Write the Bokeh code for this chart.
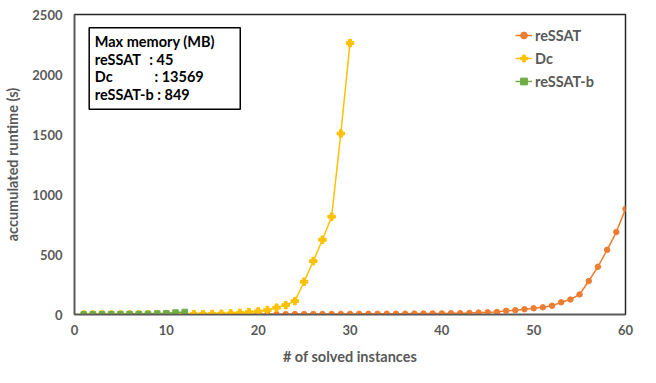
from bokeh.plotting import figure
from bokeh.models import Range1d, Label, BoxAnnotation, SingleIntervalTicker
from bokeh.embed import file_html
from bokeh.resources import INLINE

# ---- data ----
ressat_x = list(range(1, 61))
ressat_y = [0.1, 0.2, 0.3, 0.4, 0.5, 0.6, 0.7, 0.8, 0.9, 1.0,
            1.1, 1.2, 1.3, 1.5, 1.6, 1.8, 2.0, 2.1, 2.3, 2.5,
            2.7, 2.9, 3.1, 3.3, 3.5, 3.7, 4.0, 4.3, 4.6, 5.0,
            5.3, 5.7, 6.0, 6.4, 6.8, 7.2, 7.7, 8.2, 8.7, 9.2,
            9.8, 10.5, 13, 16, 18, 21, 31, 36, 44, 52,
            60, 73, 102, 125, 167, 279, 398, 539, 687, 880]
dc_x = list(range(1, 31))
dc_y = [0.1, 0.2, 0.3, 0.4, 0.5, 0.6, 0.8, 1.0, 1.2, 1.5,
        1.8, 2.1, 2.5, 3.0, 4.5, 6, 9, 14, 20, 26,
        37, 57, 78, 112, 273, 445, 623, 815, 1508, 2262]
rb_x = list(range(1, 13))
rb_y = [1, 1.5, 2, 2.5, 3, 3.5, 4, 5, 8, 10, 16, 21]

series_names = ["reSSAT", "Dc", "reSSAT-b"]
colors = ["#ED7D31", "#FFC000", "#70AD47"]
x_ticks_step = 10
y_ticks_step = 500

memo_title = "Max memory  (MB)"
memo_rows = [("reSSAT", ": 45"), ("Dc", ": 13569")]
memo_last = "reSSAT-b : 849"

FONT = "Lato"
GRAY = "#595959"

p = figure(width=640, height=367, output_backend="svg", toolbar_location=None,
           x_range=Range1d(0, 60), y_range=Range1d(0, 2500),
           min_border_left=74, min_border_right=15, min_border_top=14, min_border_bottom=46)

p.xgrid.visible = False
p.ygrid.visible = False
p.outline_line_color = "#262626"
p.outline_line_width = 1.5

p.xaxis.ticker = SingleIntervalTicker(interval=x_ticks_step)
p.yaxis.ticker = SingleIntervalTicker(interval=y_ticks_step)
for ax in (p.xaxis[0], p.yaxis[0]):
    ax.major_tick_out = 0
    ax.major_tick_in = 0
    ax.minor_tick_out = 0
    ax.minor_tick_in = 0
    ax.axis_line_color = "#595959"
    ax.axis_line_width = 1.5
    ax.major_label_text_font = FONT
    ax.major_label_text_font_style = "bold"
    ax.major_label_text_font_size = "13px"
    ax.major_label_text_color = GRAY
    ax.axis_label_text_font = FONT
    ax.axis_label_text_font_style = "bold"
    ax.axis_label_text_font_size = "14.5px"
    ax.axis_label_text_color = GRAY
p.xaxis.major_label_standoff = 10
p.yaxis.major_label_standoff = 12
p.xaxis.axis_label = "# of solved instances"
p.yaxis.axis_label = "accumulated runtime (s)"
p.xaxis.axis_label_standoff = 10
p.yaxis.axis_label_standoff = 8

# series
p.line(ressat_x, ressat_y, color=colors[0], line_width=1.5, legend_label=series_names[0])
p.scatter(ressat_x, ressat_y, marker="circle", size=5.5, color=colors[0], legend_label=series_names[0])
p.line(dc_x, dc_y, color=colors[1], line_width=1.5, legend_label=series_names[1])
p.scatter(dc_x, dc_y, marker="plus", size=7.5, color=colors[1], legend_label=series_names[1])
p.line(rb_x, rb_y, color=colors[2], line_width=1.5, legend_label=series_names[2])
p.scatter(rb_x, rb_y, marker="square", size=5.5, color=colors[2], legend_label=series_names[2])

leg = p.legend[0]
leg.location = "top_right"
leg.margin = 10
leg.padding = 6
leg.spacing = 1
leg.glyph_width = 17
leg.glyph_height = 22
leg.label_height = 22
leg.label_width = 80
leg.label_standoff = 3
leg.label_text_font = FONT
leg.label_text_font_style = "bold"
leg.label_text_font_size = "14.5px"
leg.label_text_color = GRAY
leg.border_line_color = None
leg.background_fill_alpha = 0

# memo box
box = BoxAnnotation(left=1.6, right=18.05, top=2390, bottom=1711,
                    fill_color="white", fill_alpha=1.0,
                    line_color="black", line_alpha=1.0, line_width=1.5)
p.add_layout(box)

ys = [2279, 2122, 1980, 1830]
common = dict(text_font=FONT, text_font_style="bold", text_font_size="14.5px",
              text_color="black", text_baseline="middle")
p.add_layout(Label(x=2.2, y=ys[0], text=memo_title, **common))
colon_x = [8.15, 8.7]
for i, (name, val) in enumerate(memo_rows):
    p.add_layout(Label(x=2.2, y=ys[i + 1], text=name, **common))
    p.add_layout(Label(x=colon_x[i], y=ys[i + 1], text=val, **common))
p.add_layout(Label(x=2.2, y=ys[3], text=memo_last, **common))

open("out.html", "w").write(file_html(p, INLINE))
